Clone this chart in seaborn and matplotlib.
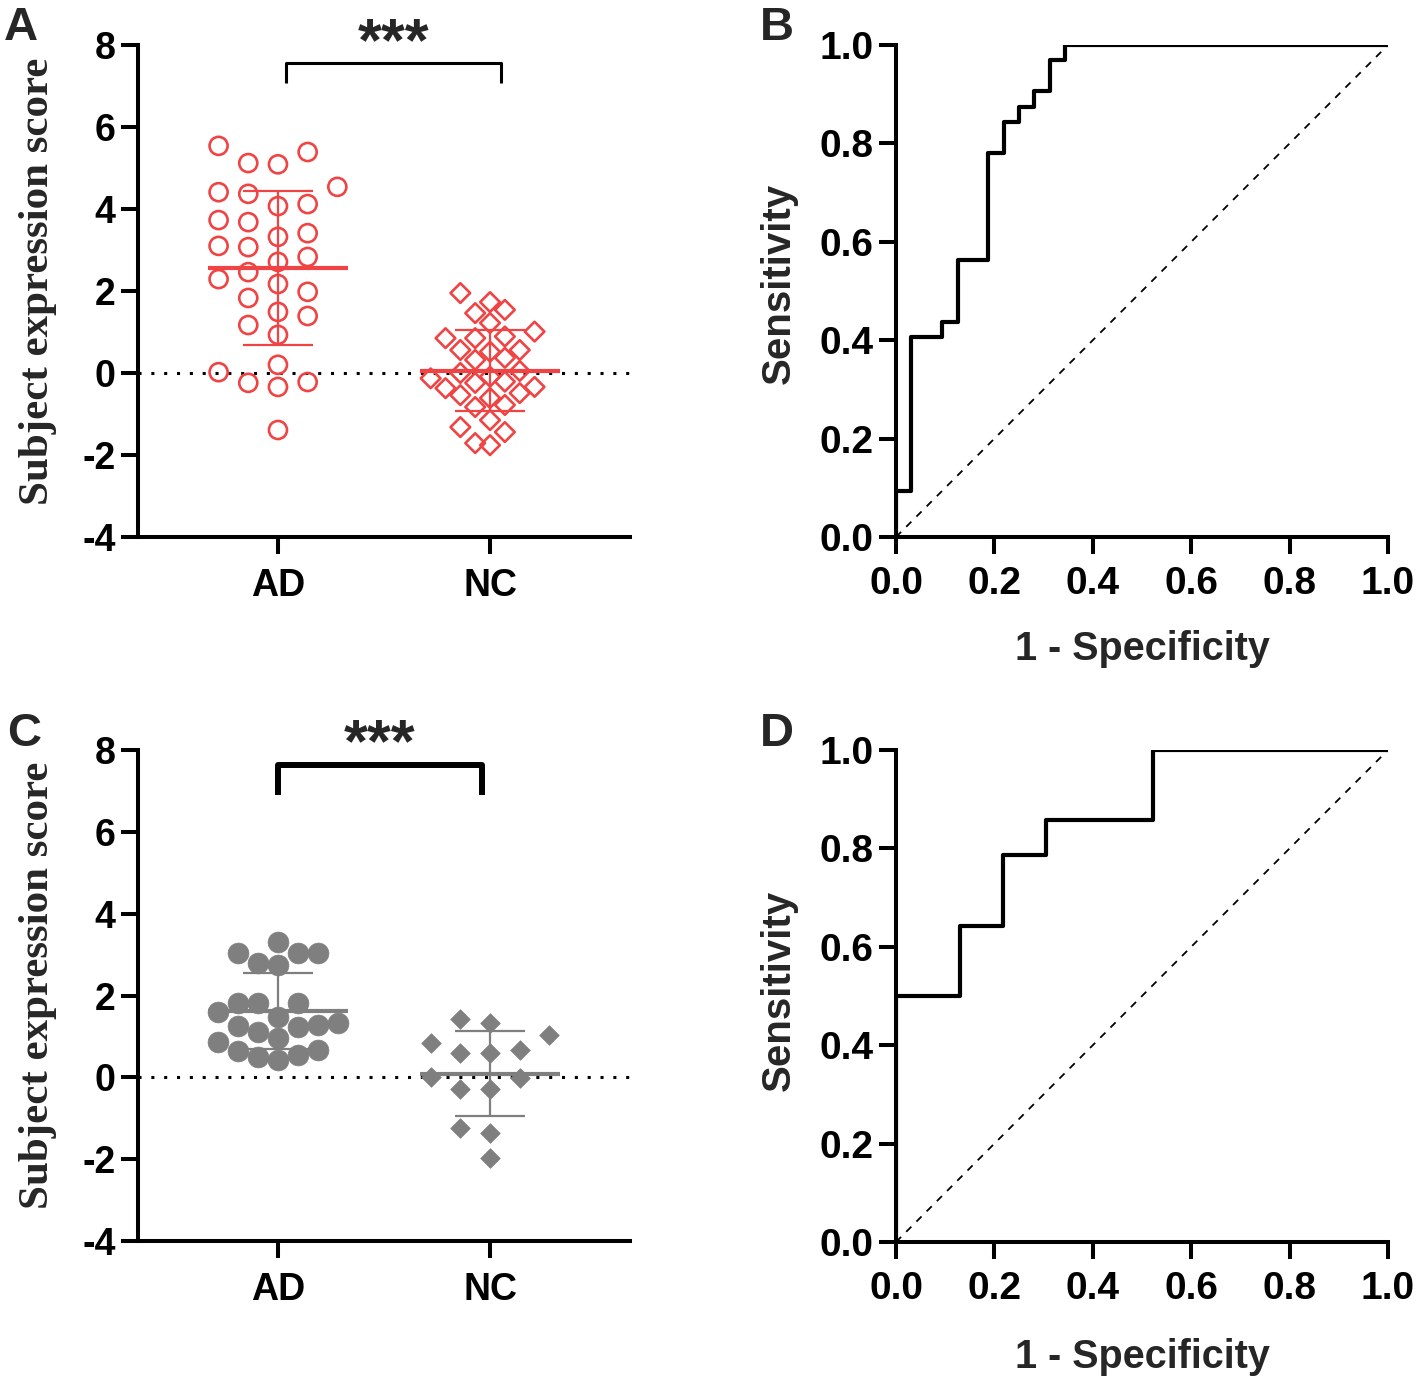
import numpy as np
import seaborn as sns
import matplotlib.pyplot as plt

# ---- data ----
groups = ["AD", "NC"]

# panel A (open markers)
a_ad = [5.39, 5.12, 5.09, 5.54, 4.41, 4.54, 4.37, 4.07, 4.12, 3.68, 3.73,
        3.41, 3.32, 3.07, 3.10, 2.83, 2.71, 2.46, 2.29, 2.17, 1.98, 1.83,
        1.49, 1.39, 1.17, 0.93, 0.20, 0.02, -0.22, -0.34, -0.24, -1.39]
a_nc = [1.95, 1.73, 1.54, 1.46, 1.22, 1.01, 0.85, 0.85, 0.89, 0.56, 0.56,
        0.52, 0.37, 0.32, 0.00, 0.05, -0.09, -0.21, -0.13, -0.24, -0.37,
        -0.49, -0.34, -0.54, -0.78, -0.61, -0.83, -1.15, -1.32, -1.44,
        -1.76, -1.71]

# panel C (filled markers)
c_ad = [3.03, 3.30, 3.03, 3.03, 2.74, 2.79, 1.81, 1.59, 1.81, 1.81, 1.47,
        1.22, 1.27, 1.10, 1.25, 1.32, 0.95, 0.86, 0.54, 0.64, 0.42, 0.66,
        0.49]
c_nc = [1.03, 1.32, 1.42, 0.83, 0.68, 0.59, 0.59, 0.02, -0.02, -0.29,
        -0.29, -1.37, -1.25, -1.96]

# ROC curves (1 - specificity, sensitivity)
b_fpr = [0, 0, 0.031, 0.094, 0.125, 0.1875, 0.219, 0.25, 0.281, 0.3125, 0.344, 1.0]
b_tpr = [0, 0.094, 0.406, 0.4375, 0.5625, 0.781, 0.844, 0.875, 0.906, 0.969, 1.0, 1.0]
d_fpr = [0, 0, 0.13, 0.217, 0.304, 0.522, 1.0]
d_tpr = [0, 0.5, 0.643, 0.786, 0.857, 1.0, 1.0]

RED = "#F04444"
GRAY = "#7F7F7F"
W, H = 1416, 1378

sns.set_style("ticks")
plt.rcParams["font.family"] = ["Liberation Sans", "DejaVu Sans"]
plt.rcParams["font.weight"] = "bold"
plt.rcParams["axes.labelweight"] = "bold"
plt.rcParams["axes.unicode_minus"] = False
plt.rcParams["axes.linewidth"] = 2.9
plt.rcParams["xtick.major.width"] = 2.9
plt.rcParams["ytick.major.width"] = 2.9
plt.rcParams["xtick.major.size"] = 12
plt.rcParams["ytick.major.size"] = 12
plt.rcParams["xtick.color"] = "black"
plt.rcParams["ytick.color"] = "black"
plt.rcParams["axes.edgecolor"] = "black"


def add_ax(fig, l, t, r, b):
    return fig.add_axes([l / W, 1 - b / H, (r - l) / W, (b - t) / H])


def column_layout(values, center, w, h):
    # GraphPad-like column scatter: fill slots outward from centre
    vals = np.asarray(values, dtype=float)
    xs = np.zeros(len(vals))
    placed = []
    slots = [0]
    for k in range(1, 10):
        slots += [-k, k]
    for i in np.argsort(vals):
        for s in slots:
            if all(abs(vals[i] - py) >= h for ps, py in placed if ps == s):
                break
        placed.append((s, vals[i]))
        xs[i] = center + s * w
    return xs


def scatter_panel(ax, ad, nc, color, filled, specs, bracket, bracket_lw, star_y, ylab_y):
    for pos, vals, (marker, ms, w, h) in zip([0, 1], [ad, nc], specs):
        xs = column_layout(vals, pos, w, h)
        sns.scatterplot(x=xs, y=vals, marker=marker, s=ms ** 2, ax=ax,
                        color=color, zorder=3, legend=False)
        coll = ax.collections[-1]
        if filled:
            coll.set_facecolor(color)
            coll.set_edgecolor(color)
            coll.set_linewidth(0.5)
        else:
            coll.set_facecolor("none")
            coll.set_edgecolor(color)
            coll.set_linewidth(1.9)
        m = np.mean(vals)
        sd = np.std(vals, ddof=1)
        ax.hlines(m, pos - 0.33, pos + 0.33, color=color, lw=3, zorder=4)
        ax.vlines(pos, m - sd, m + sd, color=color, lw=1.6, zorder=4)
        ax.hlines([m - sd, m + sd], pos - 0.165, pos + 0.165, color=color, lw=1.6, zorder=4)

    ax.axhline(0, color="black", lw=2.2, linestyle=(0, (1, 3.2)), zorder=1)
    x0, x1, ylo, yhi = bracket
    ax.plot([x0, x0, x1, x1], [ylo, yhi, yhi, ylo], color="black",
            lw=bracket_lw, clip_on=False, solid_capstyle="butt")
    ax.text((x0 + x1) / 2, star_y, "***", ha="center", va="baseline",
            fontsize=44, fontweight="bold", clip_on=False)

    ax.set_xlim(-0.66, 1.66)
    ax.set_ylim(-4, 8)
    ax.set_yticks(range(-4, 9, 2))
    ax.set_xticks([0, 1])
    ax.set_xticklabels(groups)
    ax.tick_params(axis="both", labelsize=27)
    ax.tick_params(axis="y", pad=4)
    ax.tick_params(axis="x", pad=10)
    ax.set_ylabel("Subject expression score", fontsize=31,
                  fontfamily="Liberation Serif", fontweight="bold")
    ax.yaxis.set_label_coords(-0.165, ylab_y)
    sns.despine(ax=ax)


def roc_panel(ax, fpr, tpr, xlab_y, ylab_y):
    sns.lineplot(x=fpr, y=tpr, estimator=None, sort=False, drawstyle="steps-post",
                 color="black", lw=3, ax=ax, zorder=3)
    ax.axline((0, 0), slope=1, color="black", lw=1.3, linestyle=(0, (4, 4)))
    ax.set_xlim(0, 1)
    ax.set_ylim(0, 1)
    ticks = np.arange(0, 1.01, 0.2)
    ax.set_xticks(ticks)
    ax.set_yticks(ticks)
    ax.set_xticklabels([f"{t:.1f}" for t in ticks])
    ax.set_yticklabels([f"{t:.1f}" for t in ticks])
    ax.tick_params(axis="both", labelsize=28)
    ax.tick_params(axis="y", pad=4)
    ax.tick_params(axis="x", pad=9)
    ax.set_xlabel("1 - Specificity", fontsize=28.5)
    ax.set_ylabel("Sensitivity", fontsize=29)
    ax.xaxis.set_label_coords(0.5, xlab_y)
    ax.yaxis.set_label_coords(-0.199, ylab_y)
    sns.despine(ax=ax)


fig = plt.figure(figsize=(W / 100, H / 100), dpi=100)

ax_a = add_ax(fig, 138, 45, 630, 537)
ax_b = add_ax(fig, 896, 45, 1388, 537)
ax_c = add_ax(fig, 138, 750, 630, 1241)
ax_d = add_ax(fig, 896, 750, 1388, 1242)

scatter_panel(ax_a, a_ad, a_nc, RED, False,
              [("o", 13, 0.14, 0.5), ("D", 10, 0.07, 0.5)],
              (0.04, 1.05, 7.07, 7.56), 2.2, 7.62, 0.52)
scatter_panel(ax_c, c_ad, c_nc, GRAY, True,
              [("o", 15, 0.094, 0.5), ("D", 10, 0.14, 0.5)],
              (0.0, 0.96, 6.9, 7.63), 4.3, 7.72, 0.521)

roc_panel(ax_b, b_fpr, b_tpr, -0.19, 0.516)
roc_panel(ax_d, d_fpr, d_tpr, -0.195, 0.512)

for letter, px, py in [("A", 4, 6), ("B", 760, 6), ("C", 7, 712), ("D", 760, 712)]:
    fig.text(px / W, 1 - py / H, letter, ha="left", va="top",
             fontsize=34, fontweight="bold")

fig.savefig("out.png", dpi=100)
